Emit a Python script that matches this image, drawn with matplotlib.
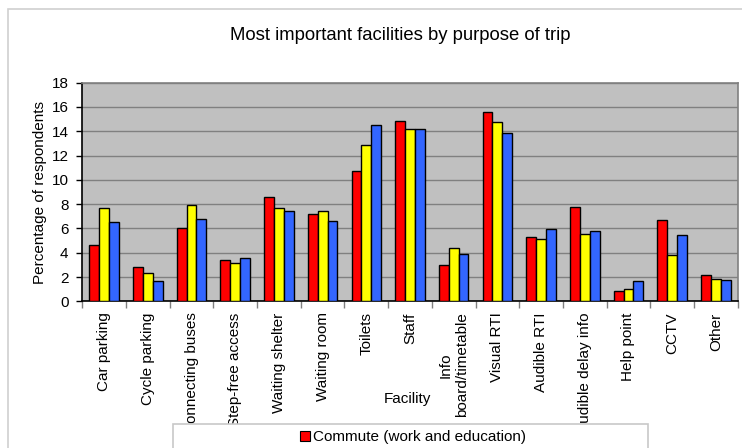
import matplotlib
matplotlib.use("Agg")
import matplotlib.pyplot as plt
from matplotlib.patches import Rectangle, Patch
import numpy as np

plt.rcParams['font.family'] = ['Liberation Sans', 'DejaVu Sans']

categories = ["Car parking", "Cycle parking", "Connecting buses", "Step-free access",
              "Waiting shelter", "Waiting room", "Toilets", "Staff",
              "Info\nboard/timetable", "Visual RTI", "Audible RTI",
              "Audible delay info", "Help point", "CCTV", "Other"]
commute = [4.6, 2.85, 6.05, 3.4, 8.55, 7.15, 10.75, 14.85, 2.95, 15.6, 5.3, 7.75, 0.85, 6.7, 2.15]
series2 = [7.65, 2.3, 7.9, 3.15, 7.65, 7.4, 12.85, 14.15, 4.35, 14.8, 5.1, 5.55, 1.0, 3.8, 1.8]
series3 = [6.5, 1.7, 6.8, 3.6, 7.45, 6.65, 14.5, 14.15, 3.9, 13.85, 5.95, 5.8, 1.65, 5.5, 1.75]
series_names = ["Commute (work and education)", "Series 2", "Series 3"]
colors = ["#FF0000", "#FFFF00", "#3366FF"]
yticks = list(range(0, 19, 2))

W, H = 742, 448
fig = plt.figure(figsize=(W / 100, H / 100), dpi=100)
ax = fig.add_axes([82.3 / W, 1 - 301.3 / H, (737.7 - 82.3) / W, (301.3 - 82.7) / H])
ax.set_facecolor("#C0C0C0")

x = np.arange(len(categories))
bw = 0.225
for i, (vals, c, name) in enumerate(zip([commute, series2, series3], colors, series_names)):
    ax.bar(x + (i - 1) * bw, vals, width=bw, color=c, edgecolor="black", linewidth=1.0,
           label=name, zorder=3)

ax.set_xlim(-0.5, len(categories) - 0.5)
ax.set_ylim(0, 18)
ax.set_yticks(yticks)
ax.yaxis.grid(True, color="#808080", linewidth=1.0, zorder=1)
ax.set_axisbelow(True)

ax.set_xticks(x)
ax.set_xticklabels(categories, rotation=90, ha="center", va="top", multialignment="center")
ax.set_xticks(np.arange(-0.5, len(categories), 1), minor=True)
ax.tick_params(axis="x", which="major", length=0, pad=8, labelsize=11)
ax.tick_params(axis="x", which="minor", length=5, color="#808080", width=1)
ax.tick_params(axis="y", length=4, width=1, color="black", labelsize=11, pad=6)

for s in ["top", "right"]:
    ax.spines[s].set_color("#808080")
    ax.spines[s].set_linewidth(1.2)
for s in ["left", "bottom"]:
    ax.spines[s].set_color("black")
    ax.spines[s].set_linewidth(1.2)

ax.set_ylabel("Percentage of respondents", fontsize=11, labelpad=3)
fig.text(407 / W, 1 - 399 / H, "Facility", fontsize=11, ha="center", va="center")
fig.text(400 / W, 1 - 35 / H, "Most important facilities by purpose of trip",
         fontsize=13.3, ha="center", va="center")

# outer chart border
fig.add_artist(Rectangle((8.3 / W, -0.1), 1.2, 1 - 9.3 / H + 0.1, transform=fig.transFigure,
                         fill=False, edgecolor="#D0D0D0", linewidth=1.2, zorder=1))

# legend box (clipped by figure edge)
fig.add_artist(Rectangle((172.7 / W, -0.1), (648.3 - 172.7) / W, 1 - 424 / H + 0.1,
                         transform=fig.transFigure, facecolor="white",
                         edgecolor="#C8C8C8", linewidth=1.2, zorder=5))
h = Patch(facecolor=colors[0], edgecolor="black", linewidth=0.8)
leg = fig.legend(handles=[h], labels=[series_names[0]], loc="center",
                 bbox_to_anchor=(413 / W, 1 - 437 / H), frameon=False, fontsize=11,
                 handlelength=0.65, handleheight=0.65, handletextpad=0.2, borderpad=0)
leg.set_zorder(6)

fig.savefig("out.png", dpi=100)
